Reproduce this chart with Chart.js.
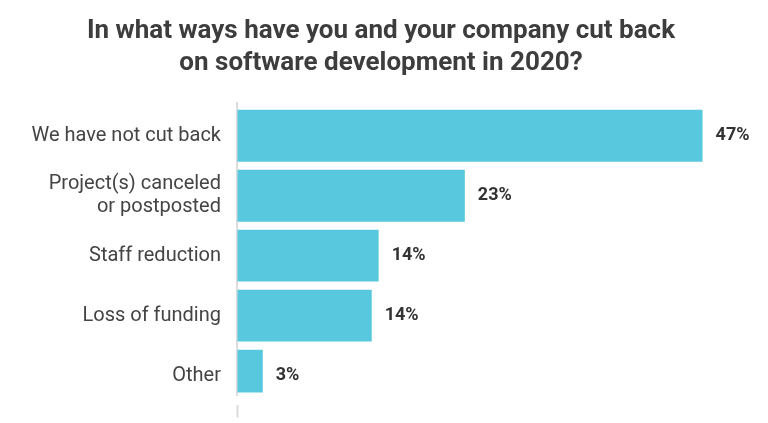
<!DOCTYPE html>
<html>
<head>
<meta charset="utf-8">
<script src="https://cdn.jsdelivr.net/npm/chart.js@4/dist/chart.umd.min.js"></script>
<style>
  html, body { margin: 0; padding: 0; background: #ffffff; }
  #wrap { width: 768px; height: 423px; position: relative; }
</style>
</head>
<body>
<div id="wrap"><canvas id="c"></canvas></div>
<script>
// ---- data ----
const titleLines = ["In what ways have you and your company cut back", "on software development in 2020?"];
const categories = [
  ["We have not cut back"],
  ["Project(s) canceled", "or postposted"],
  ["Staff reduction"],
  ["Loss of funding"],
  ["Other"]
];
const values = [47, 23, 14.3, 13.6, 2.6];
const valueLabels = ["47%", "23%", "14%", "14%", "3%"];

const barColor = "#58c8de";

const valueLabelPlugin = {
  id: "valueLabels",
  afterDatasetsDraw(chart) {
    const ctx = chart.ctx;
    const meta = chart.getDatasetMeta(0);
    ctx.save();
    ctx.font = "bold 18px Roboto";
    ctx.fillStyle = "#333333";
    ctx.textAlign = "left";
    ctx.textBaseline = "middle";
    meta.data.forEach((el, i) => {
      ctx.fillText(valueLabels[i], el.x + 13, el.y);
    });
    ctx.restore();
  }
};

new Chart(document.getElementById("c"), {
  type: "bar",
  data: {
    datasets: [{
      data: values.map((v, i) => ({ x: v, y: i })),
      backgroundColor: barColor,
      borderWidth: 0,
      categoryPercentage: 1,
      barPercentage: 0.865,
      clip: { left: false, top: 0, right: false, bottom: -3 }
    }]
  },
  options: {
    indexAxis: "y",
    responsive: true,
    maintainAspectRatio: false,
    animation: false,
    layout: { padding: { left: 0, right: 6, top: 0, bottom: 0 } },
    plugins: {
      legend: { display: false },
      tooltip: { enabled: false },
      title: {
        display: true,
        text: titleLines,
        color: "#3d3d3d",
        font: { family: "Roboto", weight: "bold", size: 26, lineHeight: 1.25 },
        padding: { top: 15, bottom: 23 }
      }
    },
    scales: {
      y: {
        type: "linear",
        bounds: "data",
        offset: false,
        reverse: true,
        min: -0.546,
        max: 4.332,
        afterFit: (s) => { s.width = 237; },
        afterBuildTicks: (s) => { s.ticks = categories.map((_, i) => ({ value: i })); },
        grid: { display: false, drawTicks: false },
        border: { display: true, color: "#dcdcdc", width: 2 },
        ticks: {
          autoSkip: false,
          padding: 16,
          color: "#444444",
          font: { family: "Roboto", size: 20, lineHeight: 1.15 },
          callback: (v) => categories[v]
        }
      },
      x: {
        type: "linear",
        bounds: "data",
        min: 0,
        max: 53,
        afterFit: (s) => { s.height = 24; },
        border: { display: false },
        grid: {
          drawOnChartArea: false,
          drawTicks: true,
          tickLength: 22,
          tickWidth: 2,
          tickBorderDash: [0, 9, 13, 0],
          tickColor: (ctx) => (ctx.tick && ctx.tick.value === 0) ? "#dcdcdc" : "rgba(0,0,0,0)"
        },
        ticks: { display: false }
      }
    }
  },
  plugins: [valueLabelPlugin]
});
</script>
</body>
</html>
